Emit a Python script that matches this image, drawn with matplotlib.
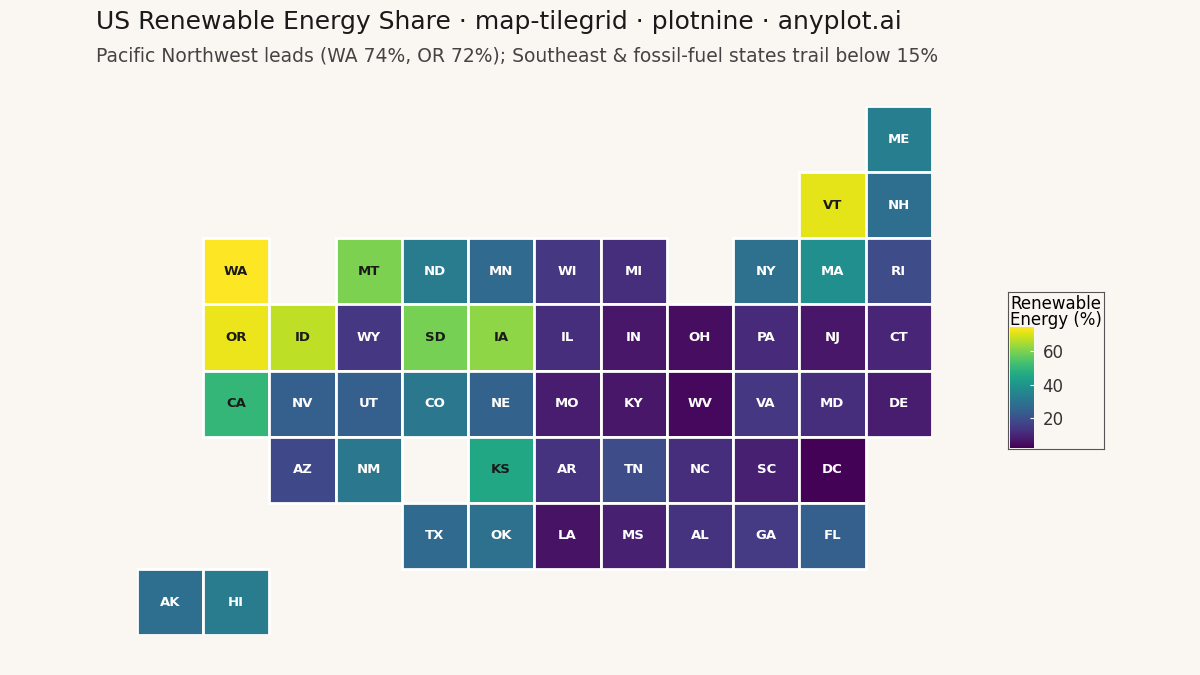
import matplotlib
matplotlib.use("Agg")
import matplotlib.pyplot as plt
from matplotlib.patches import Rectangle
from matplotlib import cm, colors

states = ["ME","VT","NH","WA","MT","ND","MN","WI","MI","NY","MA","RI",
          "OR","ID","WY","SD","IA","IL","IN","OH","PA","NJ","CT",
          "CA","NV","UT","CO","NE","MO","KY","WV","VA","MD","DE",
          "AZ","NM","KS","AR","TN","NC","SC","DC",
          "TX","OK","LA","MS","AL","GA","FL","AK","HI"]
cols = [11,10,11,1,3,4,5,6,7,9,10,11,
        1,2,3,4,5,6,7,8,9,10,11,
        1,2,3,4,5,6,7,8,9,10,11,
        2,3,5,6,7,8,9,10,
        4,5,6,7,8,9,10,0,1]
rows = [0,1,1,2,2,2,2,2,2,2,2,2,
        3,3,3,3,3,3,3,3,3,3,3,
        4,4,4,4,4,4,4,4,4,4,4,
        5,5,5,5,5,5,5,5,
        6,6,6,6,6,6,6,7,7]
share = [33,71,28,74,60,32,27,14,12,29,38,19,
         72,67,14,59,62,12,7,5,11,7,10,
         50,24,24,31,25,8,7,4,14,12,8,
         18,31,45,13,19,12,9,3,
         27,29,6,9,13,15,24,28,32]

bg = "#faf7f2"
fig = plt.figure(figsize=(12, 6.75), dpi=100, facecolor=bg)
ax = fig.add_axes([0.114, 0.059, 0.6625, 0.784])
ax.set_facecolor(bg)
cmap = cm.viridis
norm = colors.Normalize(vmin=2.6, vmax=74)
for s, c, r, v in zip(states, cols, rows, share):
    ax.add_patch(Rectangle((c, -r), 1, 1, facecolor=cmap(norm(v)), edgecolor="white", lw=2))
    ax.text(c + 0.5, -r + 0.5, s, ha="center", va="center", fontsize=9.5, fontweight="bold",
            color="#1a1a1a" if v > 42 else "white")
ax.set_xlim(0, 12)
ax.set_ylim(-7, 1)
ax.axis("off")

fig.text(0.08, 0.967, "US Renewable Energy Share · map-tilegrid · plotnine · anyplot.ai",
         fontsize=18, color="#1a1a1a", va="center")
fig.text(0.08, 0.917, "Pacific Northwest leads (WA 74%, OR 72%); Southeast & fossil-fuel states trail below 15%",
         fontsize=13.5, color="#444444", va="center")

lax = fig.add_axes([0.84, 0.335, 0.08, 0.232])
lax.set_facecolor(bg)
lax.set_xticks([]); lax.set_yticks([])
for sp in lax.spines.values():
    sp.set_color("#555555"); sp.set_linewidth(0.8)
lax.text(0.02, 0.985, "Renewable\nEnergy (%)", transform=lax.transAxes, ha="left", va="top",
         fontsize=12, linespacing=0.9)
cax = fig.add_axes([0.842, 0.337, 0.02, 0.178])
cb = fig.colorbar(cm.ScalarMappable(norm=norm, cmap=cmap), cax=cax)
cb.set_ticks([20, 40, 60])
cb.outline.set_visible(False)
cax.tick_params(labelsize=12, length=3, color="white", labelcolor="#333333", direction="in", pad=6)

fig.savefig("out.png", dpi=100, facecolor=bg)
